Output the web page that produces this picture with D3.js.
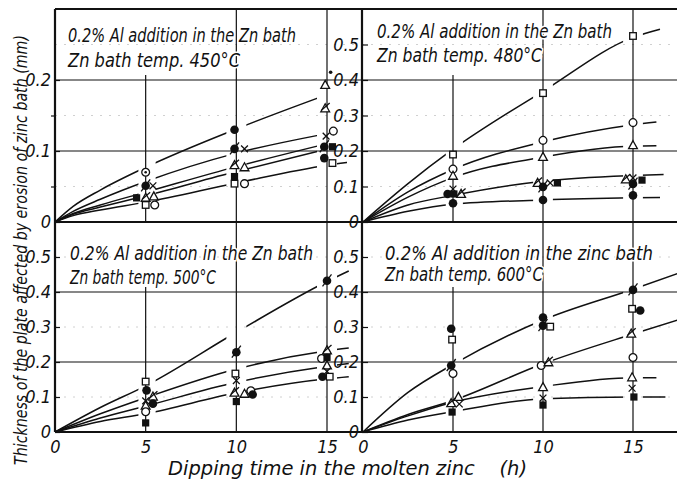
<!DOCTYPE html>
<html>
<head>
<meta charset="utf-8">
<script src="https://cdn.jsdelivr.net/npm/d3@7"></script>
<style>
  body { margin: 0; background: #fff; }
  svg text {
    font-family: "Liberation Sans Narrow", "DejaVu Sans Condensed", "Roboto", sans-serif;
    font-style: italic;
    fill: #111;
  }
</style>
</head>
<body>
<div id="chart"></div>
<script>
// Tick values
const hourTicks = [0, 5, 10, 15];
const topLeftTicks = [0, 0.1, 0.2];
const valueTicks = [0, 0.1, 0.2, 0.3, 0.4, 0.5];

// Panel captions
const title450 = ['0.2% Al addition in the Zn bath', 'Zn bath temp.  450°C'];
const title480 = ['0.2% Al addition in the Zn bath', 'Zn bath temp. 480°C'];
const title500 = ['0.2% Al addition in the Zn bath', 'Zn bath temp. 500°C'];
const title600 = ['0.2% Al addition in the zinc bath', 'Zn bath temp. 600°C'];

// Fitted curves, [hours, mm]
const curves450 = [
  [[0, 0], [1, 0.022], [2.5, 0.045], [5, 0.077], [10, 0.131], [15.5, 0.184]],
  [[0, 0], [1, 0.015], [2.5, 0.032], [5, 0.057], [10, 0.097], [14.5, 0.122]],
  [[0, 0], [1, 0.012], [2.5, 0.024], [5, 0.042], [10, 0.078], [14.8, 0.109]],
  [[0, 0], [1, 0.011], [2.5, 0.021], [5, 0.037], [10, 0.071], [14.9, 0.102]],
  [[0, 0], [1, 0.009], [2.5, 0.017], [5, 0.028], [10, 0.055], [15, 0.080], [16.1, 0.084]]
];
const curves480 = [
  [[0, 0], [2.5, 0.108], [5, 0.205], [10, 0.368], [15, 0.52], [16.5, 0.543]],
  [[0, 0], [2.5, 0.085], [5, 0.148], [10, 0.226], [15, 0.274], [16.3, 0.282]],
  [[0, 0], [2.5, 0.07], [5, 0.125], [10, 0.183], [15, 0.214], [16.3, 0.215]],
  [[0, 0], [2.5, 0.048], [5, 0.075], [10, 0.115], [15, 0.131], [16.7, 0.134]],
  [[0, 0], [2.5, 0.03], [5, 0.05], [10, 0.062], [15, 0.068], [16.5, 0.069]]
];
const curves500 = [
  [[0, 0], [2.5, 0.07], [5, 0.132], [10, 0.285], [15, 0.43], [16.2, 0.46]],
  [[0, 0], [2.5, 0.052], [5, 0.098], [10, 0.18], [15, 0.232], [16.2, 0.24]],
  [[0, 0], [2.5, 0.04], [5, 0.074], [10, 0.142], [15, 0.188], [16.2, 0.196]],
  [[0, 0], [2.5, 0.03], [5, 0.052], [10, 0.112], [15, 0.152], [16.2, 0.158]]
];
const curves600 = [
  [[0, 0], [2.5, 0.113], [5, 0.193], [10, 0.32], [15, 0.408], [17.6, 0.455]],
  [[0, 0], [2.5, 0.05], [5, 0.09], [10, 0.195], [15, 0.28], [17.6, 0.322]],
  [[0, 0], [2.5, 0.046], [5, 0.085], [10, 0.13], [15, 0.155], [16.3, 0.155]],
  [[0, 0], [2.5, 0.034], [5, 0.058], [10, 0.095], [15, 0.1], [16.8, 0.1]]
];

// Measured points, [symbol, hours, mm]
const points450 = [
  ['dotCircle', 5, 0.070], ['slashCircle', 5, 0.051], ['cross', 5.4, 0.051],
  ['filledSquare', 4.5, 0.034], ['slashTriangle', 5, 0.034], ['triangle', 5.45, 0.036],
  ['openSquare', 5, 0.024], ['openCircle', 5.5, 0.024],
  ['filledCircle', 9.9, 0.130], ['slashCircle', 9.9, 0.103], ['cross', 10.45, 0.103],
  ['slashTriangle', 9.9, 0.080], ['triangle', 10.45, 0.077], ['filledSquare', 9.9, 0.064],
  ['openSquare', 9.9, 0.054], ['openCircle', 10.45, 0.054],
  ['dot', 15.2, 0.211], ['triangle', 14.9, 0.193], ['slashTriangle', 14.9, 0.160],
  ['cross', 14.95, 0.121], ['openCircle', 15.35, 0.128], ['slashCircle', 14.85, 0.106],
  ['filledSquare', 15.3, 0.106], ['filledCircle', 14.85, 0.090], ['openSquare', 15.3, 0.083]
];
const points480 = [
  ['openSquare', 5, 0.19], ['openCircle', 5, 0.149], ['triangle', 5, 0.13],
  ['cross', 5, 0.093], ['filledCircle', 4.7, 0.079], ['filledSquare', 5.05, 0.079],
  ['slashTriangle', 5.45, 0.079], ['filledCircle', 5, 0.053],
  ['openSquare', 10, 0.363], ['openCircle', 10, 0.23], ['triangle', 10, 0.183],
  ['slashTriangle', 9.7, 0.11], ['slashCircle', 10, 0.099], ['cross', 10.4, 0.11],
  ['filledSquare', 10.8, 0.11], ['filledCircle', 10, 0.062],
  ['openSquare', 15, 0.524], ['openCircle', 15, 0.28], ['triangle', 15, 0.216],
  ['slashTriangle', 14.6, 0.12], ['cross', 15, 0.124], ['filledSquare', 15.5, 0.118],
  ['slashCircle', 15, 0.107], ['filledCircle', 15, 0.075]
];
const points500 = [
  ['openSquare', 5, 0.144], ['filledCircle', 5.05, 0.119], ['cross', 5, 0.089],
  ['slashTriangle', 5.4, 0.101], ['filledCircle', 5.4, 0.081], ['triangle', 5, 0.075],
  ['openCircle', 5, 0.058], ['filledSquare', 5, 0.026],
  ['slashCircle', 10, 0.228], ['openSquare', 9.95, 0.167], ['cross', 10, 0.147],
  ['slashTriangle', 9.9, 0.112], ['triangle', 10.45, 0.109], ['openCircle', 10.8, 0.118],
  ['filledCircle', 10.9, 0.107], ['filledSquare', 10, 0.087],
  ['slashCircle', 15, 0.432], ['slashTriangle', 15, 0.233], ['openCircle', 14.7, 0.21],
  ['filledSquare', 15, 0.213], ['triangle', 15, 0.19], ['cross', 15, 0.173],
  ['filledCircle', 14.75, 0.158], ['openSquare', 15.15, 0.158]
];
const points600 = [
  ['filledCircle', 4.9, 0.295], ['openSquare', 4.95, 0.264], ['slashCircle', 4.9, 0.19],
  ['openCircle', 5, 0.167], ['triangle', 5.3, 0.10], ['slashTriangle', 4.9, 0.082],
  ['cross', 5.35, 0.08], ['filledSquare', 4.95, 0.057],
  ['filledCircle', 10, 0.327], ['slashCircle', 10, 0.304], ['openSquare', 10.4, 0.301],
  ['openCircle', 9.9, 0.19], ['slashTriangle', 10.3, 0.199], ['triangle', 10, 0.128],
  ['cross', 10, 0.097], ['filledSquare', 10, 0.077],
  ['slashCircle', 15, 0.406], ['openSquare', 14.95, 0.352], ['filledCircle', 15.4, 0.347],
  ['slashTriangle', 14.9, 0.281], ['openCircle', 15, 0.213], ['triangle', 14.95, 0.156],
  ['cross', 14.95, 0.125], ['filledSquare', 15.05, 0.1]
];

const width = 677;
const height = 481;
const ink = '#111';

const svg = d3.select('#chart')
  .append('svg')
  .attr('width', width)
  .attr('height', height)
  .style('background', '#fff');

// Scales: two columns, two rows
const xLeft = d3.scaleLinear().domain([0, 15]).range([55, 327]);
const xRight = d3.scaleLinear().domain([0, 15]).range([363, 633]);
const yTopLeft = d3.scaleLinear().domain([0, 0.3]).range([222, 9]);
const yTopRight = d3.scaleLinear().domain([0, 0.6]).range([222, 9]);
const yBottom = d3.scaleLinear().domain([0, 0.6]).range([432, 222]);

const panels = [
  { id: 'p450', x: xLeft, y: yTopLeft, left: 55, right: 362, curves: curves450, points: points450,
    title: title450, grid: [0.1, 0.2], faint: [0.05, 0.15, 0.25], title1: [68, 42, 228], title2: [68, 67, 172] },
  { id: 'p480', x: xRight, y: yTopRight, left: 362, right: 700, curves: curves480, points: points480,
    title: title480, grid: [0.2, 0.4], faint: [0.1, 0.3, 0.5], title1: [377, 38, 235], title2: [377, 62, 165] },
  { id: 'p500', x: xLeft, y: yBottom, left: 55, right: 362, curves: curves500, points: points500,
    title: title500, grid: [0.2, 0.4], faint: [0.1, 0.3, 0.5], title1: [70, 260, 243], title2: [70, 284, 146] },
  { id: 'p600', x: xRight, y: yBottom, left: 362, right: 700, curves: curves600, points: points600,
    title: title600, grid: [0.2, 0.4], faint: [0.1, 0.3, 0.5], title1: [385, 260, 268], title2: [385, 281, 158] }
];

const defs = svg.append('defs');

// Curves are drawn with small breaks where they meet the 5 h / 10 h / 15 h columns
const gaps = [[-1, 4.6], [5.55, 9.45], [10.55, 14.45], [15.55, 20]];

const line = d3.line()
  .x(d => d[0])
  .y(d => d[1])
  .curve(d3.curveMonotoneX);

function drawMarker(g, type, cx, cy) {
  const m = g.append('g').attr('transform', `translate(${cx},${cy})`);
  const stroke = { stroke: ink, 'stroke-width': 1.3 };
  const apply = (sel, attrs) => { Object.entries(attrs).forEach(([k, v]) => sel.attr(k, v)); return sel; };
  if (type === 'filledCircle') {
    m.append('circle').attr('r', 4.3).attr('fill', ink);
  } else if (type === 'openCircle') {
    apply(m.append('circle').attr('r', 3.9).attr('fill', '#fff'), stroke);
  } else if (type === 'dotCircle') {
    apply(m.append('circle').attr('r', 3.9).attr('fill', '#fff'), stroke);
    m.append('circle').attr('r', 1.3).attr('fill', ink);
  } else if (type === 'slashCircle') {
    m.append('circle').attr('r', 4.3).attr('fill', ink);
    apply(m.append('line').attr('x1', -4.5).attr('y1', 5.5).attr('x2', 4.5).attr('y2', -6.5), stroke);
  } else if (type === 'triangle') {
    apply(m.append('path').attr('d', 'M0,-4.6L4.4,3.4L-4.4,3.4Z').attr('fill', '#fff'), stroke);
  } else if (type === 'slashTriangle') {
    apply(m.append('path').attr('d', 'M0,-4.6L4.4,3.4L-4.4,3.4Z').attr('fill', '#fff'), stroke);
    apply(m.append('line').attr('x1', -3.5).attr('y1', 1.5).attr('x2', 4.5).attr('y2', -5.5), stroke);
  } else if (type === 'cross') {
    apply(m.append('path').attr('d', 'M-3.4,-3.4L3.4,3.4M-3.4,3.4L3.4,-3.4').attr('fill', 'none'), stroke);
  } else if (type === 'filledSquare') {
    m.append('rect').attr('x', -3.6).attr('y', -3.6).attr('width', 7.2).attr('height', 7.2).attr('fill', ink);
  } else if (type === 'openSquare') {
    apply(m.append('rect').attr('x', -3.3).attr('y', -3.3).attr('width', 6.6).attr('height', 6.6)
      .attr('fill', '#fff'), stroke);
  } else if (type === 'dot') {
    m.append('circle').attr('r', 1.8).attr('fill', ink);
  }
}

panels.forEach(p => {
  const top = p.y.range()[1];
  const bottom = p.y.range()[0];
  const g = svg.append('g').attr('class', p.id);

  // Faint paper rulings
  g.selectAll('.faint')
    .data(p.faint)
    .enter()
    .append('line')
    .attr('x1', p.left).attr('x2', p.right)
    .attr('y1', d => p.y(d)).attr('y2', d => p.y(d))
    .attr('stroke', '#c4c4c4')
    .attr('stroke-width', 0.8)
    .attr('stroke-dasharray', '2,7');

  // Solid grid
  g.selectAll('.hgrid')
    .data(p.grid)
    .enter()
    .append('line')
    .attr('x1', p.left).attr('x2', p.right)
    .attr('y1', d => p.y(d)).attr('y2', d => p.y(d))
    .attr('stroke', ink)
    .attr('stroke-width', 1.2);

  g.selectAll('.vgrid')
    .data(hourTicks.slice(1))
    .enter()
    .append('line')
    .attr('x1', d => p.x(d)).attr('x2', d => p.x(d))
    .attr('y1', d => d === 5 ? p.y(p.grid[1]) - 5 : top)
    .attr('y2', bottom)
    .attr('stroke', ink)
    .attr('stroke-width', 1.2);

  // Clip with breaks around columns
  const clip = defs.append('clipPath').attr('id', 'clip-' + p.id);
  clip.selectAll('rect')
    .data(gaps)
    .enter()
    .append('rect')
    .attr('x', d => p.x(d[0]))
    .attr('width', d => p.x(d[1]) - p.x(d[0]))
    .attr('y', top - 5)
    .attr('height', bottom - top + 10);

  g.append('g')
    .attr('clip-path', `url(#clip-${p.id})`)
    .selectAll('path')
    .data(p.curves)
    .enter()
    .append('path')
    .attr('d', c => line(c.map(d => [p.x(d[0]), p.y(d[1])])))
    .attr('fill', 'none')
    .attr('stroke', ink)
    .attr('stroke-width', 1.5);

  // Measured points
  const pg = g.append('g');
  p.points.forEach(d => drawMarker(pg, d[0], p.x(d[1]), p.y(d[2])));

  // Caption
  [p.title1, p.title2].forEach((pos, i) => {
    g.append('text')
      .attr('x', pos[0])
      .attr('y', pos[1])
      .attr('textLength', pos[2])
      .attr('lengthAdjust', 'spacingAndGlyphs')
      .style('font-size', '19px')
      .style('paint-order', 'stroke')
      .style('stroke', '#fff')
      .style('stroke-width', '3px')
      .text(p.title[i]);
  });
});

// Frame
const frame = svg.append('g')
  .attr('stroke', ink)
  .attr('stroke-width', 2.2);
frame.append('line').attr('x1', 55).attr('x2', 700).attr('y1', 9).attr('y2', 9);
frame.append('line').attr('x1', 55).attr('x2', 700).attr('y1', 222).attr('y2', 222);
frame.append('line').attr('x1', 55).attr('x2', 700).attr('y1', 432).attr('y2', 432);
frame.append('line').attr('x1', 55).attr('x2', 55).attr('y1', 9).attr('y2', 432);
frame.append('line').attr('x1', 362).attr('x2', 362).attr('y1', 9).attr('y2', 432);

// Y axes
const fmt = d => d === 0 ? '0' : d3.format('.1f')(d);

function styleAxis(sel) {
  sel.select('.domain').remove();
  sel.selectAll('line').attr('stroke', ink).attr('stroke-width', 1.2);
  sel.selectAll('text')
    .style('font-size', '18px')
    .attr('fill', ink);
}

svg.append('g')
  .attr('transform', 'translate(55,0)')
  .call(d3.axisLeft(yTopLeft).tickValues(topLeftTicks).tickFormat(fmt).tickSize(-5).tickPadding(4))
  .call(styleAxis);

svg.append('g')
  .attr('transform', 'translate(55,0)')
  .call(d3.axisLeft(yTopLeft).tickValues([0.05, 0.15]).tickFormat('').tickSize(4))
  .call(styleAxis);

svg.append('g')
  .attr('transform', 'translate(362,0)')
  .call(d3.axisLeft(yTopRight).tickValues(valueTicks).tickFormat(fmt).tickSize(-6).tickPadding(3))
  .call(styleAxis);

svg.append('g')
  .attr('transform', 'translate(55,0)')
  .call(d3.axisLeft(yBottom).tickValues(valueTicks).tickFormat(fmt).tickSize(-5).tickPadding(4))
  .call(styleAxis);

svg.append('g')
  .attr('transform', 'translate(362,0)')
  .call(d3.axisLeft(yBottom).tickValues(valueTicks).tickFormat(fmt).tickSize(-6).tickPadding(3))
  .call(styleAxis);

// X axes
[xLeft, xRight].forEach(x => {
  svg.append('g')
    .attr('transform', 'translate(0,432)')
    .call(d3.axisBottom(x).tickValues(hourTicks).tickFormat(d => d).tickSize(0).tickPadding(8))
    .call(styleAxis);
});

// Axis titles
svg.append('text')
  .attr('transform', 'translate(27,250) rotate(-90)')
  .attr('text-anchor', 'middle')
  .attr('textLength', 430)
  .attr('lengthAdjust', 'spacingAndGlyphs')
  .style('font-size', '17px')
  .text('Thickness of the plate affected by erosion of zinc bath (mm)');

svg.append('text')
  .attr('x', 168)
  .attr('y', 475)
  .attr('textLength', 359)
  .attr('lengthAdjust', 'spacingAndGlyphs')
  .style('font-size', '19px')
  .style('white-space', 'pre')
  .text('Dipping time in the molten zinc    (h)');
</script>
</body>
</html>
